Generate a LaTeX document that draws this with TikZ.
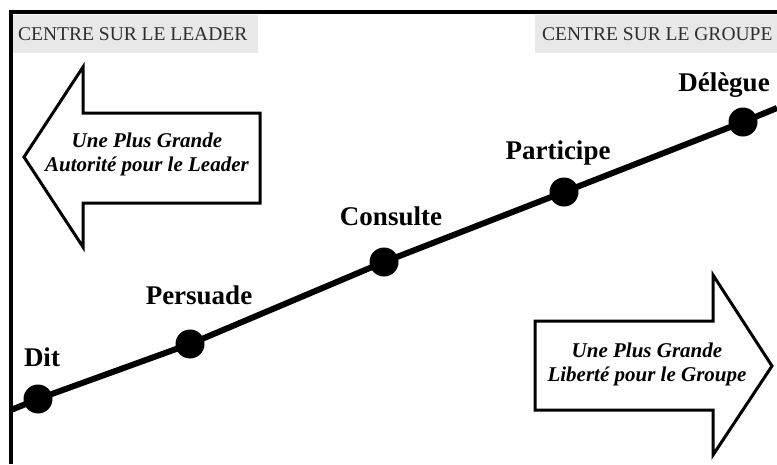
\documentclass[tikz,border=0pt]{standalone}
\usepackage{fontspec}
\setmainfont{Liberation Serif}
\usetikzlibrary{positioning}

\definecolor{headgray}{HTML}{E8E8E8}
\definecolor{headtext}{HTML}{2E2E2E}

\tikzset{
  frameline/.style = {line width = 3.5pt},
  headbox/.style = {fill = headgray, inner sep = 0pt, font = \fontsize{19.5}{22}\selectfont, text = headtext},
  stage/.style = {shape = circle, fill = black, minimum size = 29pt, inner sep = 0pt},
  stagelabel/.style = {font = \fontsize{27}{29}\selectfont\bfseries},
  trendline/.style = {line width = 6pt},
  bigarrow/.style = {line width = 3pt, line join = miter},
  arrowtext/.style = {align = center, font = \fontsize{21}{24}\selectfont\bfseries\itshape}
}

\begin{document}
\begin{tikzpicture}[x = 1pt, y = -1pt]
\useasboundingbox (0,0) rectangle (777,464);

% cadre
\draw[frameline] (11,464) -- (11,12) -- (777,12);

% en-tetes
\fill[headgray] (13,15) rectangle (258,53);
\fill[headgray] (535,15) rectangle (777,53);
\node[headbox, anchor = west] (lead) at (18,34) {CENTRE SUR LE LEADER};
\node[headbox, anchor = west] (grp) at (542,34) {CENTRE SUR LE GROUPE};

% fleche gauche
\draw[bigarrow] (260,113) -- (83,113) -- (83,67) -- (24,157) -- (83,247) -- (83,203) -- (260,203) -- cycle;
\node[arrowtext] (auto) at (147,154) {Une Plus Grande\\Autorité pour le Leader};

% fleche droite
\draw[bigarrow] (535,321) -- (713,321) -- (713,275) -- (772,366) -- (713,455) -- (713,410) -- (535,410) -- cycle;
\node[arrowtext] (lib) at (647,364) {Une Plus Grande\\Liberté pour le Groupe};

% continuum
\coordinate (start) at (11,410);
\coordinate (end) at (777,108);
\node[stage] (dit) at (38,399) {};
\node[stage] (pers) at (190,344) {};
\node[stage] (cons) at (384,262) {};
\node[stage] (part) at (564,192) {};
\node[stage] (deleg) at (743,122) {};
\draw[trendline] (start) -- (dit.center) -- (pers.center) -- (cons.center) -- (part.center) -- (deleg.center) -- (end);

\node[stagelabel, above = 14pt of dit, xshift = 4pt] (ditl) {Dit};
\node[stagelabel, above = 21pt of pers, xshift = 9pt] (persl) {Persuade};
\node[stagelabel, above = 18pt of cons, xshift = 7pt] (consl) {Consulte};
\node[stagelabel, above = 9pt of part, xshift = -6pt] (partl) {Participe};
\node[stagelabel, above = 6pt of deleg, xshift = -19pt] (delegl) {Délègue};
\end{tikzpicture}
\end{document}
